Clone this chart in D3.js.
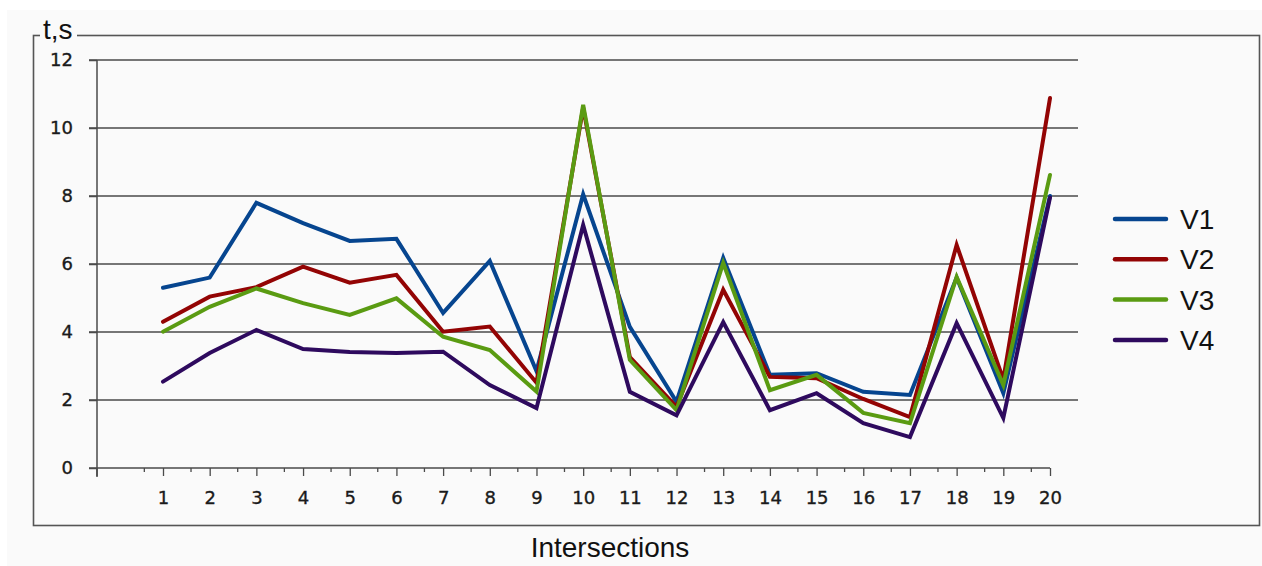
<!DOCTYPE html>
<html><head><meta charset="utf-8">
<script src="https://cdn.jsdelivr.net/npm/d3@7"></script>
<style>html,body{margin:0;padding:0;background:#fff;}svg{display:block;}</style>
</head><body><svg id="c" width="1262" height="566"></svg>
<script>
const categories = d3.range(1, 21);
const seriesNames = ["V1", "V2", "V3", "V4"];
const V1 = [5.3, 5.6, 7.8, 7.2, 6.68, 6.74, 4.56, 6.09, 2.85, 8.05, 4.15, 1.95, 6.18, 2.74, 2.79, 2.24, 2.15, 5.6, 2.2, 8.0];
const V2 = [4.3, 5.04, 5.32, 5.92, 5.45, 5.68, 4.01, 4.16, 2.51, 10.6, 3.26, 1.8, 5.24, 2.68, 2.64, 2.03, 1.5, 6.56, 2.6, 10.88];
const V3 = [4.01, 4.74, 5.28, 4.85, 4.5, 4.99, 3.86, 3.47, 2.25, 10.68, 3.18, 1.7, 6.03, 2.29, 2.74, 1.62, 1.32, 5.62, 2.44, 8.62];
const V4 = [2.54, 3.38, 4.06, 3.5, 3.41, 3.38, 3.42, 2.44, 1.76, 7.15, 2.24, 1.55, 4.29, 1.7, 2.2, 1.32, 0.91, 4.26, 1.47, 7.95];
const seriesValues = [V1, V2, V3, V4];
const colors = ["#06458f", "#930404", "#5a9b12", "#2e0a5e"];
const yTicks = [0, 2, 4, 6, 8, 10, 12];

const svg = d3.select("#c");
// background
svg.append("rect").attr("x", 7).attr("y", 10).attr("width", 1255).attr("height", 556).attr("fill", "#fafafa");
// frame
svg.append("rect").attr("x", 33.5).attr("y", 35.5).attr("width", 1226).attr("height", 490)
  .attr("fill", "none").attr("stroke", "#555").attr("stroke-width", 1.6);

const x = d3.scaleLinear().domain([1, 20]).range([163, 1050]);
const y = d3.scaleLinear().domain([0, 12]).range([468, 60]);
const x0 = x.invert(97);

// gridlines
svg.append("g").selectAll("line").data(yTicks.filter(d => d > 0)).join("line")
  .attr("x1", 89).attr("x2", 1078).attr("y1", d => y(d)).attr("y2", d => y(d))
  .attr("stroke", "#4a4a4a").attr("stroke-width", 1.5);

// y axis
const yAxis = d3.axisLeft(y).tickValues(yTicks).tickSize(8).tickPadding(16).tickFormat(d3.format("d"));
const gy = svg.append("g").attr("transform", "translate(97,0)").call(yAxis);
gy.select(".domain").remove();
gy.append("line").attr("x1", 0).attr("x2", 0).attr("y1", y(12)).attr("y2", y(0) + 8).attr("stroke", "#4a4a4a").attr("stroke-width", 1.5);
gy.selectAll(".tick line").attr("stroke", "#4a4a4a").attr("stroke-width", 1.5);
gy.selectAll("text").attr("font-family", "DejaVu Sans").attr("font-size", 18).attr("fill", "#1a1a1a")
  .attr("stroke", "#1a1a1a").attr("stroke-width", 0.35);

// x axis
const gx = svg.append("g").attr("transform", "translate(0," + y(0) + ")");
gx.append("line").attr("x1", 89).attr("x2", x(20)).attr("y1", 0).attr("y2", 0).attr("stroke", "#4a4a4a").attr("stroke-width", 1.5);
const xAxis = d3.axisBottom(x).tickValues(categories).tickSize(8).tickPadding(15).tickFormat(d3.format("d"));
const gxa = gx.append("g").call(xAxis);
gxa.select(".domain").remove();
gxa.selectAll(".tick line").attr("stroke", "#4a4a4a").attr("stroke-width", 1.3);
gxa.selectAll("text").attr("font-family", "DejaVu Sans").attr("font-size", 18).attr("fill", "#1a1a1a")
  .attr("stroke", "#1a1a1a").attr("stroke-width", 0.35);
const minor = d3.range(0, 20).map(i => i + 0.6);
gx.append("g").selectAll("line").data(minor).join("line")
  .attr("x1", d => x(d)).attr("x2", d => x(d)).attr("y1", 0).attr("y2", 4)
  .attr("stroke", "#4a4a4a").attr("stroke-width", 1.3);
gx.append("line").attr("x1", x(x0)).attr("x2", x(x0)).attr("y1", 0).attr("y2", 9).attr("stroke", "#4a4a4a").attr("stroke-width", 1.5);

// lines
const line = d3.line().x((d, i) => x(categories[i])).y(d => y(d));
svg.append("g").selectAll("path").data(seriesValues).join("path")
  .attr("d", d => line(d)).attr("fill", "none")
  .attr("stroke", (d, i) => colors[i]).attr("stroke-width", 4)
  .attr("stroke-linejoin", "miter").attr("stroke-linecap", "round");

// y title with background
svg.append("rect").attr("x", 40).attr("y", 18).attr("width", 37).attr("height", 24).attr("fill", "#fafafa");
svg.append("text").attr("x", 43).attr("y", 39).text("t,s")
  .attr("font-family", "Liberation Sans").attr("font-size", 28).attr("fill", "#111");

// x title
svg.append("text").attr("x", 610).attr("y", 557).attr("text-anchor", "middle").text("Intersections")
  .attr("font-family", "Liberation Sans").attr("font-size", 28).attr("fill", "#111");

// legend
const lg = svg.append("g").selectAll("g").data(seriesNames).join("g")
  .attr("transform", (d, i) => "translate(1115," + (219 + i * 40.3) + ")");
lg.append("line").attr("x1", 0).attr("x2", 51).attr("y1", 0).attr("y2", 0)
  .attr("stroke", (d, i) => colors[i]).attr("stroke-width", 4.5).attr("stroke-linecap", "round");
lg.append("text").attr("x", 65).attr("y", 10).text(d => d)
  .attr("font-family", "Liberation Sans").attr("font-size", 28).attr("fill", "#111");
</script>
</body></html>
